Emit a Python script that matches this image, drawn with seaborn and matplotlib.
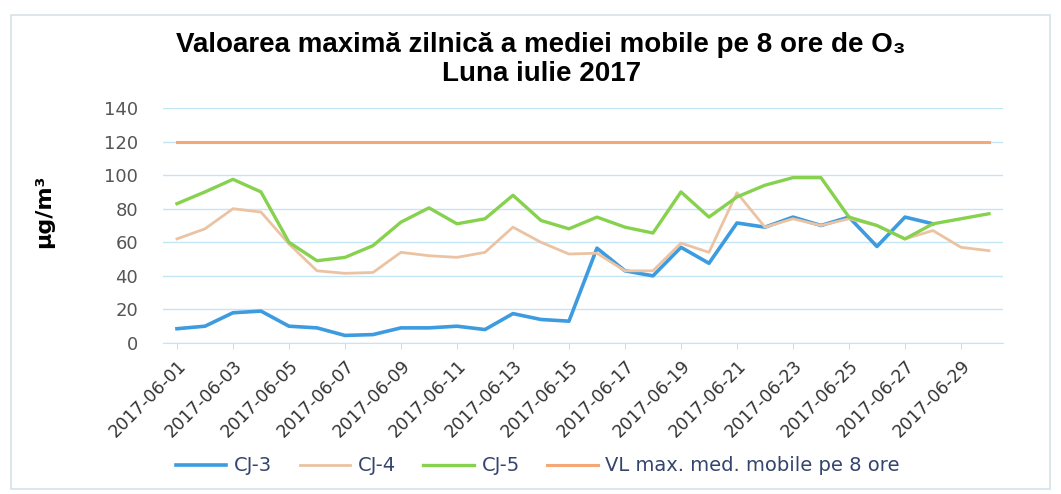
"""
Valoarea maxima zilnica a mediei mobile pe 8 ore de O3 - statiile CJ.
"""

# === Imports ===

import numpy as np
import pandas as pd
from matplotlib import pyplot as plt
from matplotlib.patches import Rectangle
import seaborn as sns


# === Data ===

days = ["2017-06-%02d" % d for d in range(1, 31)]

cj3 = [8.5, 10, 18, 19, 10, 9, 4.5, 5, 9, 9,
       10, 8, 17.5, 14, 13, 56.5, 43, 40, 57, 47.5,
       71.5, 69, 75, 70, 75, 57.5, 75, 71, np.nan, np.nan]

cj4 = [62, 68, 80, 78, 59, 43, 41.5, 42, 54, 52,
       51, 54, 69, 60, 53, 53.5, 43, 43, 59.5, 54,
       89.5, 69, 74, 70, 74, 70, 62, 67, 57, 55]

cj5 = [83, 90, 97.5, 90, 60, 49, 51, 58, 72, 80.5,
       71, 74, 88, 73, 68, 75, 69, 65.5, 90, 75,
       87, 94, 98.5, 98.5, 75, 70, 62, 71, 74, 77]

vl = [120] * len(days)

series_names = ["CJ-3", "CJ-4", "CJ-5", "VL max. med. mobile pe 8 ore"]
series_values = [cj3, cj4, cj5, vl]
colors = ["#3d9be0", "#ebc3a2", "#86d14e", "#f4a877"]
widths = [2.6, 2.0, 2.4, 2.2]


# === Plot ===

def build_frame():
    frames = []
    for name, vals in zip(series_names, series_values):
        frames.append(pd.DataFrame({"day": days, "value": vals, "serie": name}))
    return pd.concat(frames, ignore_index=True)


def main():
    data = build_frame()
    fig = plt.figure(figsize=(10.61, 4.94), dpi=100)
    ax = fig.add_axes([0.1536, 0.3057, 0.7917, 0.4757])

    #== One lineplot call per series, so each keeps its own width
    for name, col, lw in zip(series_names, colors, widths):
        sns.lineplot(data=data[data["serie"] == name], x="day", y="value",
                     color=col, linewidth=lw, sort=False, ax=ax, legend=False)

    #== Axes
    ax.set_ylim(0, 140)
    ax.set_yticks(range(0, 141, 20))
    ax.set_xlim(-0.5, len(days) - 0.5)
    ax.set_xticks(range(0, len(days), 2))
    ax.set_xticklabels(days[::2], rotation=45, ha="right",
                       rotation_mode="anchor", fontsize=12.5, color="#333333")
    ax.tick_params(axis="y", length=0, labelsize=13, labelcolor="#555555", pad=18)
    ax.tick_params(axis="x", length=4, color="#bfe3f5", pad=6)
    ax.grid(axis="y", color="#c4e5f6", linewidth=1)
    ax.set_axisbelow(True)
    for side in ["top", "right", "left"]:
        ax.spines[side].set_visible(False)
    ax.spines["bottom"].set_color("#c4e5f6")
    ax.set_xlabel("")
    ax.set_ylabel("μg/m³", fontsize=16, fontweight="bold")
    ax.yaxis.set_label_coords(-0.13, 0.56)

    #== Title
    fam = ["Liberation Sans", "DejaVu Sans"]
    fig.text(0.51, 0.908, "Valoarea maximă zilnică a mediei mobile pe 8 ore de O₃",
             ha="center", va="center", fontsize=20, fontweight="bold", family=fam)
    fig.text(0.51, 0.851, "Luna iulie 2017", ha="center", va="center",
             fontsize=20, fontweight="bold", family=fam)

    #== Legend
    handles = [plt.Line2D([], [], color=c, linewidth=lw) for c, lw in zip(colors, widths)]
    leg = fig.legend(handles, series_names, loc="center", bbox_to_anchor=(0.507, 0.057),
                     ncol=4, frameon=False, fontsize=14, handlelength=2.6,
                     columnspacing=1.4, handletextpad=0.4)
    for t in leg.get_texts():
        t.set_color("#34446e")

    #== Light frame around the chart
    fig.patches.append(Rectangle((0.01, 0.01), 0.98, 0.96, transform=fig.transFigure,
                                 fill=False, edgecolor="#d5e2ea", linewidth=1.2))

    fig.savefig("out.png", dpi=100)
    plt.close()


main()
